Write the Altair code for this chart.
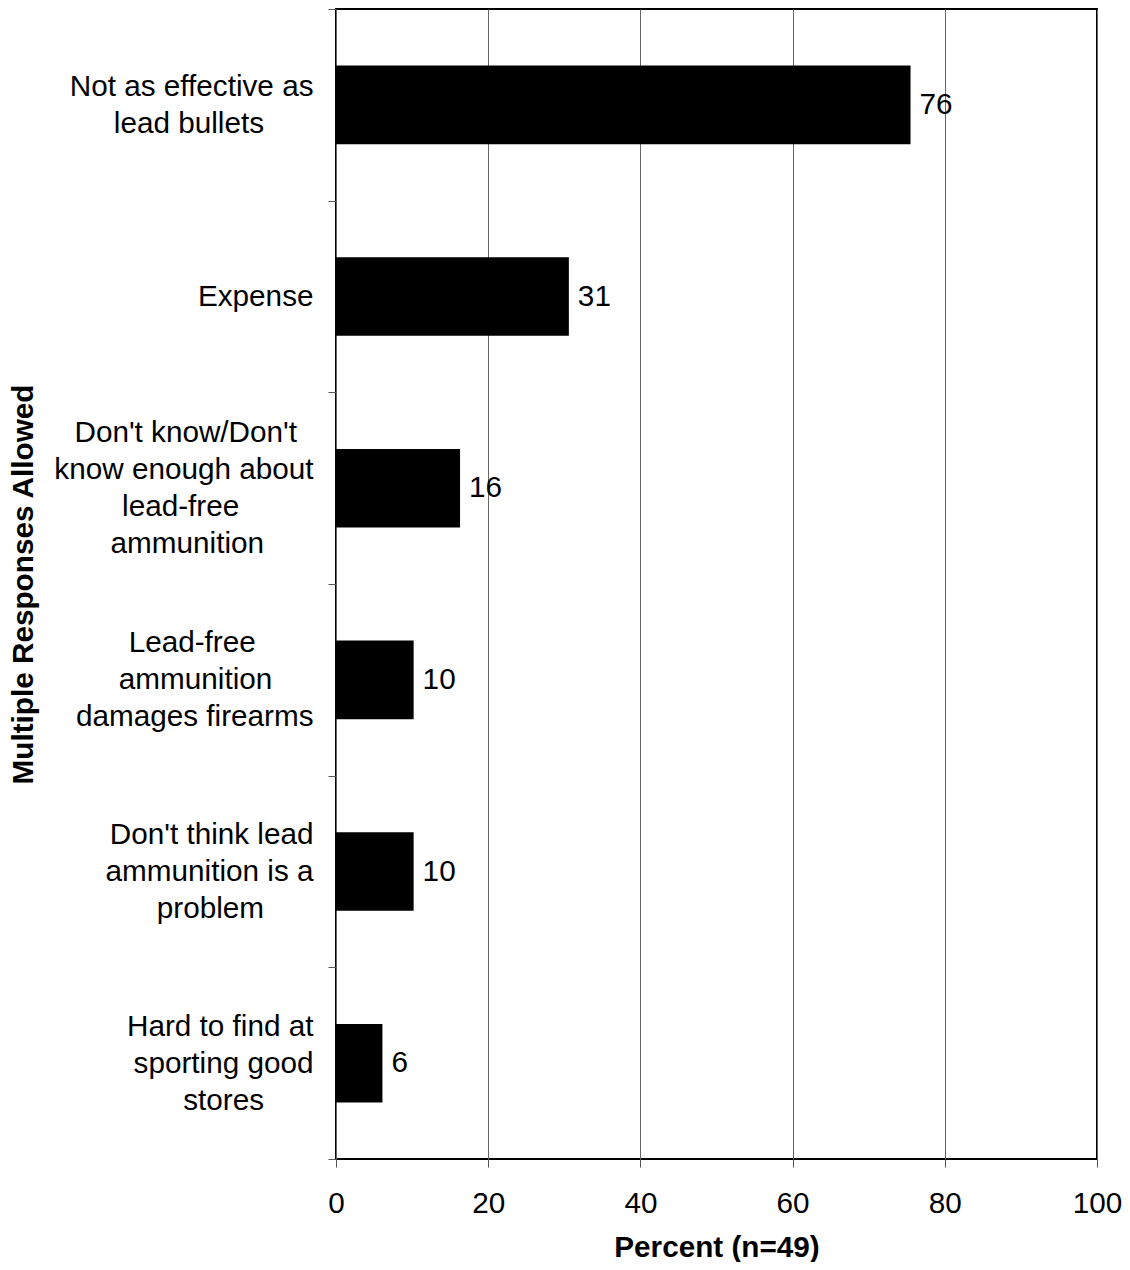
import json
import altair as alt
import pandas as pd

# ---------------- data ----------------
categories = [
    "Not as effective as lead bullets",
    "Expense",
    "Don't know/Don't know enough about lead-free ammunition",
    "Lead-free ammunition damages firearms",
    "Don't think lead ammunition is a problem",
    "Hard to find at sporting good stores",
]
label_lines = [
    ["Not as effective as", "lead bullets"],
    ["Expense"],
    ["Don't know/Don't", "know enough about", "lead-free", "ammunition"],
    ["Lead-free", "ammunition", "damages firearms"],
    ["Don't think lead", "ammunition is a", "problem"],
    ["Hard to find at", "sporting good", "stores"],
]
percents = [75.5, 30.6, 16.3, 10.2, 10.2, 6.1]
value_labels = ["76", "31", "16", "10", "10", "6"]
x_ticks = [0, 20, 40, 60, 80, 100]

FONT = "Liberation Sans"
FS = 29.7
LINE_H = 37

# Arial / Liberation Sans advance widths (per 1000 em) used to centre the
# lines of each multi-line category label inside its right-aligned block
ARIAL = {
    " ": 278, "'": 191, "-": 333, "/": 278, "D": 722, "E": 722, "H": 722,
    "L": 556, "N": 722, "a": 556, "b": 556, "c": 500, "d": 556, "e": 556,
    "f": 278, "g": 556, "h": 556, "i": 222, "k": 500, "l": 222, "m": 833,
    "n": 556, "o": 556, "p": 556, "r": 333, "s": 500, "t": 278, "u": 556,
    "v": 500, "w": 722, "x": 500,
}


def text_w(s):
    return sum(ARIAL.get(ch, 556) for ch in s) * FS / 1000.0


NBSP = "\u00a0"
ZWSP = "\u200b"  # keeps the padding from being trimmed
nbsp_w = 278 * FS / 1000.0

padded = []
for lines in label_lines:
    mw = max(text_w(l) for l in lines)
    out = []
    for l in lines:
        n = int(round((mw - text_w(l)) / 2.0 / nbsp_w))
        out.append(l + (NBSP * n + ZWSP if n > 0 else ""))
    padded.append("|".join(out))

expr = "''"
for cat, lab in reversed(list(zip(categories, padded))):
    expr = f"datum.label == {json.dumps(cat)} ? {json.dumps(lab, ensure_ascii=False)} : ({expr})"
label_expr = f"split({expr}, '|')"

# vertical offset so that each multi-line block is centred on its band
off_expr = "0"
for cat, lines in reversed(list(zip(categories, label_lines))):
    off = -(len(lines) - 1) * LINE_H / 2.0
    off_expr = f"datum.value == {json.dumps(cat)} ? {off} : ({off_expr})"

df = pd.DataFrame({"category": categories, "percent": percents, "label": value_labels})

y_enc = alt.Y(
    "category:N",
    sort=categories,
    scale=alt.Scale(paddingInner=0, paddingOuter=0),
    axis=alt.Axis(
        title="Multiple Responses Allowed",
        titleFont=FONT,
        titleFontSize=FS,
        titleFontWeight="bold",
        titleColor="black",
        titleX=-298,
        titleY=575,
        labelExpr=label_expr,
        labelOffset={"expr": off_expr},
        labelFont=FONT,
        labelFontSize=FS,
        labelColor="black",
        labelLineHeight=LINE_H,
        labelAlign="right",
        labelBaseline="middle",
        labelPadding=15,
        labelLimit=500,
        tickSize=8,
        tickBand="extent",
        tickColor="#555555",
        tickWidth=1,
        domain=False,
        grid=False,
    ),
)

x_enc = alt.X(
    "percent:Q",
    scale=alt.Scale(domain=[0, 100], nice=False),
    axis=alt.Axis(
        values=x_ticks,
        title="Percent (n=49)",
        titleFont=FONT,
        titleFontSize=FS,
        titleFontWeight="bold",
        titleColor="black",
        titleY=97,
        titleBaseline="alphabetic",
        labelFont=FONT,
        labelFontSize=FS,
        labelColor="black",
        labelBaseline="alphabetic",
        labelPadding=45,
        labelFlush=False,
        labelOverlap=False,
        tickSize=8,
        tickColor="#555555",
        tickWidth=1,
        grid=True,
        gridColor="#666666",
        gridWidth=1,
        domain=False,
    ),
)

base = alt.Chart(df)

bars = base.mark_bar(color="black", height=alt.RelativeBandSize(band=0.41)).encode(
    x=x_enc, y=y_enc
)

texts = base.mark_text(
    align="left", baseline="middle", dx=9, font=FONT, fontSize=FS, color="black"
).encode(
    x=alt.X("percent:Q"),
    y=alt.Y("category:N", sort=categories),
    text="label:N",
)

chart = (
    alt.layer(bars, texts)
    .properties(
        width=761,
        height=1150,
        padding={"left": 328, "top": 1, "right": 25, "bottom": 103},
        autosize=alt.AutoSizeParams(type="none"),
        background="white",
    )
    .configure_view(stroke="black", strokeWidth=2)
)

chart.save("out.html", embed_options={"renderer": "svg", "actions": False})
